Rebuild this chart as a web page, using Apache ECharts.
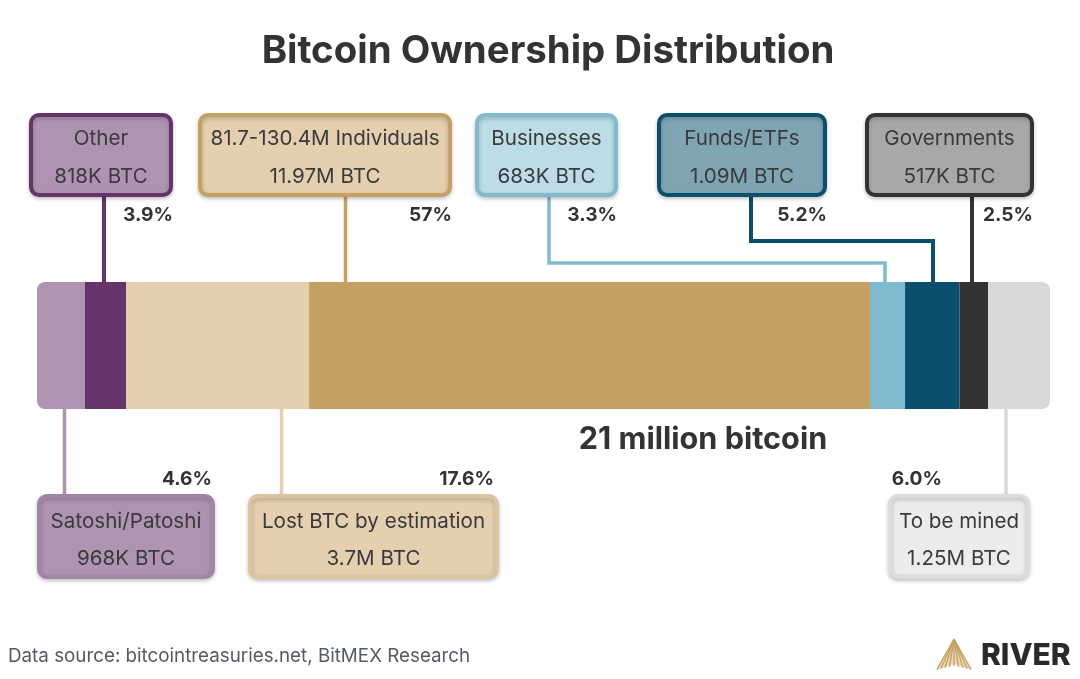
<!DOCTYPE html>
<html lang="en">
<head>
    <meta charset="UTF-8"/>
    <script src="https://cdn.jsdelivr.net/npm/echarts@6/dist/echarts.min.js"></script>
    <title>Bitcoin Ownership Distribution</title>
    <style>
        html, body{
            margin: 0;
            padding: 0;
            background: #fff;
        }
        #main{
            width: 1080px;
            height: 679px;
        }
    </style>
</head>
<body>
<div id="main"></div>
<script type="text/javascript">
    // data
    var categories = ["Satoshi/Patoshi", "Other", "Lost BTC by estimation", "81.7-130.4M Individuals",
        "Businesses", "Funds/ETFs", "Governments", "To be mined"];
    var btcLabels = ["968K BTC", "818K BTC", "3.7M BTC", "11.97M BTC", "683K BTC", "1.09M BTC", "517K BTC", "1.25M BTC"];
    var pctLabels = ["4.6%", "3.9%", "17.6%", "57%", "3.3%", "5.2%", "2.5%", "6.0%"];
    // share of the bar length each segment takes as drawn, in percent
    var barShares = [4.74, 4.05, 18.07, 55.38, 3.46, 5.38, 2.81, 6.12];
    var barTotal = 100.01;

    var INK = "#3a393d";
    var segmentColors = ["#ae94b0", "#66336b", "#e4cfae", "#c5a063", "#7fbace", "#0a506c", "#333333", "#d9d9d9"];
    var boxFills = ["#ae94b0", "#ae94b0", "#e4cfae", "#e4cfae", "#bcdde6", "#7fa4b2", "#a8a8a8", "#ececec"];
    var boxBorders = ["#a085a4", "#66336b", "#dcc59f", "#c5a063", "#7fbace", "#0a506c", "#333333", "#dcdcdc"];

    // callout layout, same order as categories: box rect, percent label anchor, leader path
    var callouts = [
        {x: 39, y: 496, w: 174, h: 81, pct: [212, 479], path: [[64.5, 408], [64.5, 496]], lw: 3.5},
        {x: 31, y: 115, w: 140, h: 80, pct: [173, 215], path: [[104, 195], [104, 282]], lw: 4},
        {x: 250, y: 496, w: 247, h: 81, pct: [494, 479], path: [[281.5, 408], [281.5, 496]], lw: 3.5},
        {x: 200, y: 115, w: 250, h: 80, pct: [452, 215], path: [[345.5, 195], [345.5, 282]], lw: 3.5},
        {x: 477, y: 115, w: 139, h: 80, pct: [617, 215], path: [[549, 195], [549, 263], [885, 263], [885, 282]], lw: 3.5},
        {x: 659, y: 115, w: 166, h: 80, pct: [827, 215], path: [[751, 195], [751, 241], [933, 241], [933, 282]], lw: 4},
        {x: 867, y: 115, w: 165, h: 80, pct: [1033, 215], path: [[972, 195], [972, 282]], lw: 4},
        {x: 890, y: 496, w: 138, h: 81, pct: [942, 479], path: [[1006, 408], [1006, 496]], lw: 3.5}
    ];

    function calloutGraphics() {
        var items = [];
        var i;
        // leader lines go first so the boxes sit on top of them
        for (i = 0; i < callouts.length; i++) {
            items.push({
                type: "polyline",
                shape: {points: callouts[i].path},
                style: {stroke: segmentColors[i], lineWidth: callouts[i].lw, fill: null}
            });
        }
        for (i = 0; i < callouts.length; i++) {
            var c = callouts[i];
            // the lower row sits a touch lower inside its boxes
            var lift = c.y > 300 ? 1.5 : 0;
            items.push({
                type: "rect",
                shape: {x: c.x, y: c.y, width: c.w, height: c.h, r: 8},
                style: {fill: boxFills[i], stroke: boxBorders[i], lineWidth: 4,
                    shadowBlur: 4, shadowOffsetY: 2, shadowColor: "rgba(0,0,0,0.2)"}
            });
            items.push({
                type: "text", x: c.x + c.w / 2, y: c.y + 24 + lift,
                style: {text: categories[i], fill: INK, font: "400 20.6px Inter", align: "center", verticalAlign: "middle"}
            });
            items.push({
                type: "text", x: c.x + c.w / 2, y: c.y + 62 + lift / 2,
                style: {text: btcLabels[i], fill: INK, font: "400 20.6px Inter", align: "center", verticalAlign: "middle"}
            });
            items.push({
                type: "text", x: c.pct[0], y: c.pct[1],
                style: {text: pctLabels[i], fill: "#333333", font: "700 19.2px Inter", align: "right", verticalAlign: "middle"}
            });
        }
        return items;
    }

    function logoGraphics() {
        var items = [{
            type: "polygon",
            shape: {points: [[954, 639], [936, 670], [954, 664], [972, 670]]},
            style: {fill: "#ead9b8"}
        }];
        // gold rays fanning out of the apex
        var feet = [937, 941, 945, 949.5, 954, 958.5, 963, 967, 971];
        for (var i = 0; i < feet.length; i++) {
            items.push({
                type: "line",
                shape: {x1: 954, y1: 639, x2: feet[i], y2: 666 + Math.abs(feet[i] - 954) * 0.2},
                style: {stroke: "#c5a063", lineWidth: 1.3}
            });
        }
        items.push({
            type: "text", x: 981, y: 655.5,
            style: {text: "RIVER", fill: "#2a2a2a", font: "800 30px Inter", align: "left", verticalAlign: "middle"}
        });
        return items;
    }

    function buildSeries() {
        var series = [];
        for (var i = 0; i < categories.length; i++) {
            var radius = 0;
            if (i === 0) {
                radius = [8, 0, 0, 8];
            } else if (i === categories.length - 1) {
                radius = [0, 8, 8, 0];
            }
            series.push({
                name: categories[i],
                type: "bar",
                stack: "supply",
                barWidth: 127,
                data: [barShares[i]],
                itemStyle: {color: segmentColors[i], borderRadius: radius}
            });
        }
        return series;
    }

    var myChart = echarts.init(document.getElementById("main"));
    var option = {
        animation: false,
        backgroundColor: "#fff",
        title: {
            text: "Bitcoin Ownership Distribution",
            left: 543,
            top: 27,
            textAlign: "center",
            textStyle: {color: "#333333", fontFamily: "Inter", fontWeight: 700, fontSize: 38.4}
        },
        grid: {left: 37, top: 282, width: 1013, height: 127},
        xAxis: {type: "value", min: 0, max: barTotal, show: false},
        yAxis: {type: "category", data: ["Bitcoin supply"], show: false},
        series: buildSeries(),
        graphic: calloutGraphics().concat(logoGraphics()).concat([
            {
                type: "text", x: 703, y: 440,
                style: {text: "21 million bitcoin", fill: "#333333", font: "700 30.6px Inter", align: "center", verticalAlign: "middle"}
            },
            {
                type: "text", x: 8, y: 656,
                style: {text: "Data source: bitcointreasuries.net, BitMEX Research", fill: "#555a66", font: "400 18.8px Inter", align: "left", verticalAlign: "middle"}
            }
        ])
    };
    myChart.setOption(option);
</script>
</body>
</html>
